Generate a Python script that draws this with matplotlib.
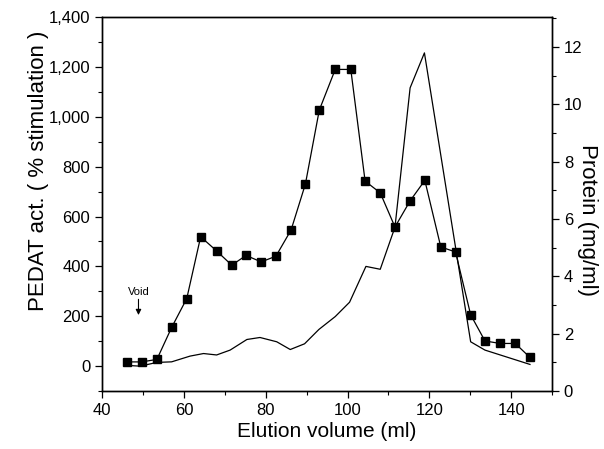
import matplotlib
matplotlib.use('Agg')
import matplotlib.pyplot as plt
from matplotlib.ticker import MultipleLocator, FuncFormatter

# PEDAT activity (% stimulation), square markers, left axis
act_volume = [46.0, 49.7, 53.4, 57.0, 60.7, 64.1, 68.0, 71.7, 75.2, 78.9, 82.5,
              86.2, 89.7, 93.1, 97.0, 100.8, 104.3, 108.0, 111.6, 115.3, 118.9,
              122.8, 126.4, 130.1, 133.6, 137.3, 141.0, 144.6]
act_values = [17, 17, 27, 155, 271, 519, 462, 405, 444, 418, 441,
              546, 730, 1027, 1190, 1190, 742, 695, 558, 663, 745,
              478, 458, 206, 101, 91, 91, 35]

# Protein (mg/ml), plain line, right axis
prot_volume = [45.6, 49.3, 53.4, 57.0, 61.5, 64.8, 68.0, 71.3, 75.4, 78.6, 82.7,
               86.0, 89.5, 93.0, 97.0, 100.5, 104.5, 108.0, 111.6, 115.3, 118.8,
               130.1, 133.6, 144.6]
prot_values = [0.9, 0.87, 1.0, 1.02, 1.22, 1.31, 1.26, 1.43, 1.8, 1.87, 1.72,
               1.45, 1.65, 2.15, 2.6, 3.1, 4.35, 4.25, 5.72, 10.58, 11.8,
               1.72, 1.43, 0.93]

plt.rcParams['font.family'] = ['Liberation Sans', 'DejaVu Sans']

fig = plt.figure(figsize=(6.04, 4.49), dpi=100)
ax = fig.add_axes([0.169, 0.129, 0.745, 0.833])
ax2 = ax.twinx()

ax.plot(act_volume, act_values, color='black', linewidth=0.9,
        marker='s', markersize=6, zorder=3)
ax2.plot(prot_volume, prot_values, color='black', linewidth=0.9)

ax.set_xlim(40, 150)
ax.set_ylim(-100, 1400)
ax2.set_ylim(0, 13.05)

ax.xaxis.set_major_locator(MultipleLocator(20))
ax.xaxis.set_minor_locator(MultipleLocator(10))
ax.yaxis.set_major_locator(MultipleLocator(200))
ax.yaxis.set_minor_locator(MultipleLocator(100))
ax.yaxis.set_major_formatter(FuncFormatter(lambda v, p: f'{int(v):,}'))
ax2.yaxis.set_major_locator(MultipleLocator(2))
ax2.yaxis.set_minor_locator(MultipleLocator(1))

for a in (ax, ax2):
    a.tick_params(which='major', length=5, width=0.9, labelsize=12, direction='out')
    a.tick_params(which='minor', length=3, width=0.8, direction='out')
    for s in a.spines.values():
        s.set_linewidth(1.0)

ax.set_xlabel('Elution volume (ml)', fontsize=15, labelpad=3)
ax.set_ylabel('PEDAT act. ( % stimulation )', fontsize=16, va='center')
ax.yaxis.set_label_coords(-0.142, 0.59)
ax2.set_ylabel('Protein (mg/ml)', fontsize=16, rotation=270, va='center')
ax2.yaxis.set_label_coords(1.078, 0.457)

ax.text(48.9, 297, 'Void', fontsize=8, ha='center', va='center')
ax.annotate('', xy=(48.9, 205), xytext=(48.9, 268),
            arrowprops=dict(arrowstyle='-|>', color='black', lw=0.8,
                            mutation_scale=8, shrinkA=0, shrinkB=0))

fig.savefig('out.png', dpi=100)
